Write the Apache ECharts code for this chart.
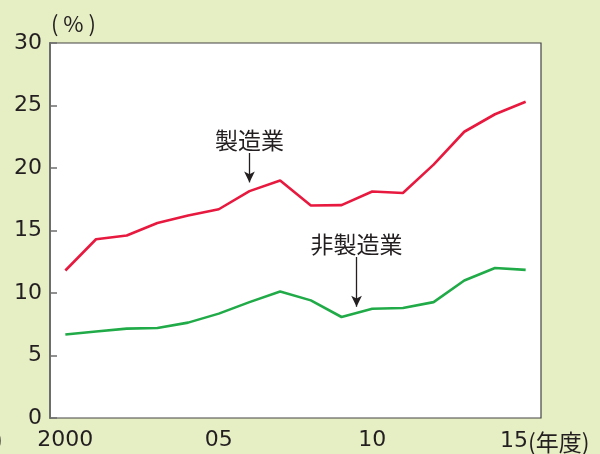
<!DOCTYPE html>
<html><head><meta charset="utf-8">
<script src="https://cdn.jsdelivr.net/npm/echarts@6/dist/echarts.min.js"></script>
<style>html,body{margin:0;padding:0;background:#e6eec4;}#c{width:600px;height:454px;}</style>
</head><body><div id="c"></div>
<script>
const years = [2000,2001,2002,2003,2004,2005,2006,2007,2008,2009,2010,2011,2012,2013,2014,2015];
const manufacturing = [11.8,14.3,14.6,15.6,16.2,16.7,18.15,19.0,17.0,17.03,18.12,18.0,20.27,22.9,24.3,25.3];
const nonManufacturing = [6.68,6.92,7.15,7.2,7.63,8.35,9.27,10.12,9.41,8.08,8.74,8.8,9.27,11.0,12.0,11.85];
const xTickValues = [2000,2005,2010,2015];
const xTickLabels = ['2000','05','10','15'];
const yTickLabels = ['0','5','10','15','20','25','30'];
const seriesNames = ['製造業','非製造業'];

const NUM = 'DejaVu Sans';
const CJK = 'Noto Sans CJK JP';
const TXT = '#231f20';

const chart = echarts.init(document.getElementById('c'), null, {renderer:'canvas'});
chart.setOption({
  animation:false,
  backgroundColor:'#e6eec4',
  grid:{left:50,right:59,top:43,bottom:34,show:true,backgroundColor:'#ffffff',borderColor:'#444',borderWidth:1.2},
  xAxis:{
    type:'value',min:1999.5,max:2015.5,
    axisLine:{show:false},
    axisTick:{show:false},
    splitLine:{show:false},
    axisLabel:{
      customValues:xTickValues,
      margin:11,
      color:TXT,fontFamily:NUM,fontSize:22,
      formatter:function(v){
        const i = xTickValues.indexOf(v);
        const t = xTickLabels[i];
        if(i===xTickValues.length-1) return '{d|'+t+'}{u|(年度)}';
        return t;
      },
      rich:{
        d:{fontFamily:NUM,fontSize:22,color:TXT,padding:[0,0,0,38]},
        u:{fontFamily:CJK,fontSize:23,color:TXT,padding:[2,0,0,0]}
      }
    }
  },
  yAxis:{
    type:'value',min:0,max:30,interval:5,
    name:'( % )',nameLocation:'end',nameGap:8,
    nameTextStyle:{align:'left',fontFamily:CJK,fontSize:22,color:TXT,padding:[0,0,0,1]},
    axisLine:{show:true,lineStyle:{color:'#6d6d6d',width:2}},
    axisTick:{show:true,inside:true,length:7,lineStyle:{color:'#6d6d6d',width:1.5}},
    splitLine:{show:false},
    axisLabel:{margin:8,color:TXT,fontFamily:NUM,fontSize:22,
      formatter:function(v){return yTickLabels[Math.round(v/5)];}}
  },
  graphic:[{type:'text',x:-5,y:428,style:{text:')',font:'23px "Noto Sans CJK JP"',fill:TXT}}],
  series:[
    {name:seriesNames[0],type:'line',data:years.map((y,i)=>[y,manufacturing[i]]),
     showSymbol:false,lineStyle:{color:'#e8193f',width:2.6},itemStyle:{color:'#e8193f'},
     markLine:{silent:true,symbol:['none','arrow'],symbolSize:[8,11],
       lineStyle:{color:TXT,width:1.3,type:'solid'},
       label:{show:true,position:'start',distance:1,formatter:seriesNames[0],fontFamily:CJK,fontSize:23,color:TXT},
       data:[[{coord:[2006,21.2]},{coord:[2006,18.85]}]]}},
    {name:seriesNames[1],type:'line',data:years.map((y,i)=>[y,nonManufacturing[i]]),
     showSymbol:false,lineStyle:{color:'#21ab48',width:2.6},itemStyle:{color:'#21ab48'},
     markLine:{silent:true,symbol:['none','arrow'],symbolSize:[8,11],
       lineStyle:{color:TXT,width:1.3,type:'solid'},
       label:{show:true,position:'start',distance:1,formatter:seriesNames[1],fontFamily:CJK,fontSize:23,color:TXT},
       data:[[{coord:[2009.49,12.88]},{coord:[2009.49,8.9]}]]}}
  ]
});
</script></body></html>
